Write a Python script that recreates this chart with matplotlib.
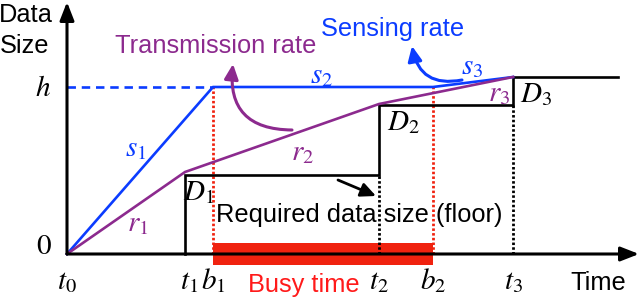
import matplotlib.pyplot as plt
from matplotlib.patches import FancyArrowPatch

plt.rcParams['font.family'] = ['Liberation Sans', 'DejaVu Sans']
plt.rcParams['mathtext.fontset'] = 'stix'

# time instants (horizontal position) and data sizes (height above 0)
t0, t1, b1, t2, b2, t3 = 67, 185, 213, 379, 433, 513
t_end = 618
h = 167

tick_x = [t0, t1, b1, t2, b2, t3]
tick_lbl = ['$t_0$', '$t_1$', '$b_1$', '$t_2$', '$b_2$', '$t_3$']

sense_x = [t0, b1, b2, t3]
sense_y = [0, h, h, 177]

trans_x = [t0, t1, t2, t3]
trans_y = [0, 82, 150, 177]

floor_x = [t1, t2, t3]
floor_y = [79, 149, 177]

BLUE = '#0b3cff'
PURPLE = '#8c2a8e'
RED = '#f0220f'

fig = plt.figure(figsize=(6.4, 2.99), dpi=100)
ax = fig.add_axes([0, 0, 1, 1])
ax.set_xlim(0, 640)
ax.set_ylim(-45, 254)
ax.axis('off')

def py(y):
    # picture row -> height above the time axis
    return 254 - y

# busy period bar
ax.barh(0, b2 - b1, left=b1, height=22, color=RED, zorder=1)

# axes with arrows
ax.add_patch(FancyArrowPatch((t0, 0), (t0, py(2)), arrowstyle='-|>,head_length=11,head_width=4.3',
                             mutation_scale=1, lw=2.2, color='black', shrinkA=0, shrinkB=0, zorder=5))
ax.add_patch(FancyArrowPatch((t0, 0), (639, 0), arrowstyle='-|>,head_length=11,head_width=4.3',
                             mutation_scale=1, lw=2.2, color='black', shrinkA=0, shrinkB=0, zorder=5))

# floor steps
fx = [floor_x[0]]
fy = [0]
for i in range(len(floor_x)):
    fx += [floor_x[i], floor_x[i + 1] if i + 1 < len(floor_x) else t_end]
    fy += [floor_y[i], floor_y[i]]
    if i + 1 < len(floor_x):
        fx.append(floor_x[i + 1])
        fy.append(floor_y[i + 1])
ax.plot(fx, fy, color='black', lw=1.9, zorder=3, solid_joinstyle='miter')

# dotted guides
dots = (0, (0.9, 0.8))
ax.plot([t2, t2], [0, floor_y[0]], color='black', lw=2, ls=dots, zorder=2)
ax.plot([t3, t3], [0, floor_y[1]], color='black', lw=2, ls=dots, zorder=2)
ax.plot([b1, b1], [0, h], color=RED, lw=2, ls=dots, zorder=2)
ax.plot([b2, b2], [0, h], color=RED, lw=2, ls=dots, zorder=2)
ax.plot([t0, b1], [h, h], color=BLUE, lw=1.9, ls=(0, (3.2, 2.2)), zorder=2)

# rates
ax.plot(sense_x, sense_y, color=BLUE, lw=1.9, zorder=4)
ax.plot(trans_x, trans_y, color=PURPLE, lw=1.9, zorder=4)

# curved pointers
ax.add_patch(FancyArrowPatch((292, py(130)), (233, py(64)), connectionstyle='arc3,rad=-0.55',
                             arrowstyle='-|>,head_length=9,head_width=4.2', mutation_scale=1,
                             lw=2.2, color=PURPLE, shrinkA=0, shrinkB=0, zorder=5))
ax.add_patch(FancyArrowPatch((462, py(80)), (412, py(46)), connectionstyle='arc3,rad=-0.5',
                             arrowstyle='-|>,head_length=9,head_width=4.2', mutation_scale=1,
                             lw=2.2, color=BLUE, shrinkA=0, shrinkB=0, zorder=5))
ax.add_patch(FancyArrowPatch((338, py(180)), (376, py(196)),
                             arrowstyle='-|>,head_length=9,head_width=4.2', mutation_scale=1,
                             lw=2, color='black', shrinkA=0, shrinkB=0, zorder=5))

fs = 18.3
ms = 21
ax.text(26, py(22), 'Data', fontsize=fs, ha='center', va='baseline')
ax.text(25, py(53), 'Size', fontsize=fs, ha='center', va='baseline')
ax.text(216, py(53), 'Transmission rate', fontsize=fs, color=PURPLE, ha='center', va='baseline')
ax.text(393, py(36), 'Sensing rate', fontsize=fs, color=BLUE, ha='center', va='baseline')
ax.text(359, py(222), 'Required data size (floor)', fontsize=fs, ha='center', va='baseline', zorder=1)
ax.text(304, py(292), 'Busy time', fontsize=fs, color='#ff1a1a', ha='center', va='baseline')
ax.text(598, py(290), 'Time', fontsize=fs, ha='center', va='baseline')

ax.text(43, py(88), '$h$', fontsize=ms, ha='center', va='center')
ax.text(44, py(246), '$0$', fontsize=ms, ha='center', va='center')
for x, lbl in zip(tick_x, tick_lbl):
    ax.text(x + (4 if lbl == '$t_1$' else 0), py(289), lbl, fontsize=ms, ha='center', va='baseline')

ax.text(136, py(148), '$s_1$', fontsize=ms, color=BLUE, ha='center', va='center')
ax.text(322, py(75), '$s_2$', fontsize=ms, color=BLUE, ha='center', va='center')
ax.text(472, py(66), '$s_3$', fontsize=ms, color=BLUE, ha='center', va='center')
ax.text(138, py(223), '$r_1$', fontsize=ms, color=PURPLE, ha='center', va='center')
ax.text(303, py(152), '$r_2$', fontsize=ms, color=PURPLE, ha='center', va='center')
ax.text(499, py(93), '$r_3$', fontsize=ms, color=PURPLE, ha='center', va='center')
ax.text(199, py(192), '$D_1$', fontsize=ms, ha='center', va='center')
ax.text(403, py(122), '$D_2$', fontsize=ms, ha='center', va='center')
ax.text(536, py(94), '$D_3$', fontsize=ms, ha='center', va='center')

fig.savefig('out.png', dpi=100)
